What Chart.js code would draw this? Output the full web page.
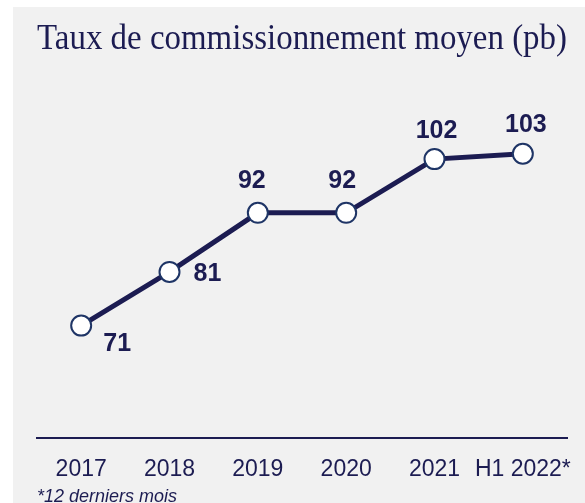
<!DOCTYPE html>
<html>
<head>
<meta charset="utf-8">
<script src="https://cdn.jsdelivr.net/npm/chart.js@4.4.0/dist/chart.umd.min.js"></script>
<style>
  html, body { margin: 0; padding: 0; background: #ffffff; }
  #panel { position: absolute; left: 13px; top: 7px; width: 572px; height: 496px; background: #f1f1f1; overflow: hidden; }
  canvas { display: block; }
</style>
</head>
<body>
<div id="panel"><canvas id="chart" width="572" height="496"></canvas></div>
<script>
// Taux de commissionnement moyen (pb)

const CATEGORIES = ["2017", "2018", "2019", "2020", "2021", "H1 2022*"];
const VALUES = [71, 81, 92, 92, 102, 103];
const FOOTNOTE = "*12 derniers mois";
const NAVY = "#1c1c52";

// label offset (px) from its point, per point
const LABEL_OFFSETS = [[36, 18], [38, 2], [-6, -32], [-4, -32], [2, -28], [3, -29]];

// ===== value labels + footnote =====
const valueLabels = {
  id: "valueLabels",
  afterDatasetsDraw(chart) {
    const ctx = chart.ctx;
    const meta = chart.getDatasetMeta(0);
    ctx.save();
    ctx.fillStyle = NAVY;
    ctx.font = "bold 25px 'Liberation Sans', Arial, sans-serif";
    ctx.textBaseline = "middle";
    ctx.textAlign = "center";
    meta.data.forEach((pt, i) => {
      const [dx, dy] = LABEL_OFFSETS[i];
      ctx.fillText(String(VALUES[i]), pt.x + dx, pt.y + dy);
    });
    ctx.font = "italic 18px 'Liberation Sans', Arial, sans-serif";
    ctx.textAlign = "left";
    ctx.fillText(FOOTNOTE, chart.chartArea.left, chart.height - 6);
    ctx.restore();
  },
};

new Chart(document.getElementById("chart"), {
  type: "line",
  data: {
    labels: CATEGORIES,
    datasets: [{
      data: VALUES,
      borderColor: NAVY,
      borderWidth: 5,
      pointRadius: 10,
      pointBorderWidth: 2,
      pointBorderColor: "#1f3566",
      pointBackgroundColor: "#ffffff",
      tension: 0,
    }],
  },
  options: {
    responsive: false,
    animation: false,
    layout: { padding: { left: 24, right: 18, top: 0, bottom: 3 } },
    scales: {
      x: {
        offset: true,
        afterFit(scale) { scale.paddingLeft = 0; scale.paddingRight = 0; },
        grid: { display: false, drawTicks: false },
        border: { display: true, color: NAVY, width: 2 },
        ticks: {
          color: NAVY, padding: 17, maxRotation: 0, minRotation: 0, autoSkip: false,
          font: { size: 23, family: "'Liberation Sans', Arial, sans-serif" },
        },
      },
      y: { display: false, min: 50, max: 116.5 },
    },
    plugins: {
      legend: { display: false },
      tooltip: { enabled: false },
      title: {
        display: true,
        text: "Taux de commissionnement moyen (pb)",
        color: NAVY,
        font: { size: 35.2, weight: "normal", family: "'Liberation Serif', 'DejaVu Serif', serif" },
        padding: { top: 12, bottom: 20 },
      },
    },
  },
  plugins: [valueLabels],
});
</script>
</body>
</html>
